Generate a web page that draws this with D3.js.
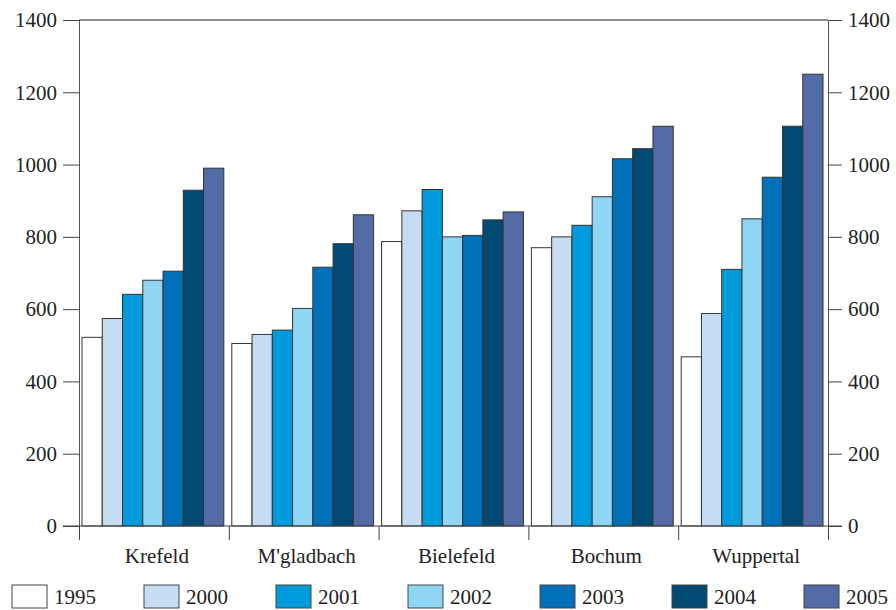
<!DOCTYPE html>
<html>
<head>
<meta charset="utf-8">
<script src="https://cdn.jsdelivr.net/npm/d3@7"></script>
<style>
  body { margin: 0; background: #fff; }
</style>
</head>
<body>
<div id="chart"></div>
<script>
const cities = ['Krefeld', "M'gladbach", 'Bielefeld', 'Bochum', 'Wuppertal'];
const years = ['1995', '2000', '2001', '2002', '2003', '2004', '2005'];
const colors = ['#ffffff', '#c6dcf2', '#009bdc', '#8fd6f5', '#0071b8', '#004a73', '#536ba6'];
const yTicks = [0, 200, 400, 600, 800, 1000, 1200, 1400];

// one row per city, one value per year
const values = [
  [522, 574, 641, 680, 705, 929, 990],
  [505, 530, 542, 602, 716, 781, 861],
  [787, 872, 931, 800, 804, 847, 869],
  [770, 800, 832, 911, 1016, 1044, 1106],
  [468, 588, 710, 850, 965, 1106, 1250]
];

const width = 896, height = 610;
const plotLeft = 79, plotRight = 828, plotTop = 20, plotBottom = 526;
const serif = "'Liberation Serif', 'Times New Roman', Times, serif";

const svg = d3.select('#chart').append('svg')
  .attr('width', width)
  .attr('height', height)
  .style('font-family', serif);

const x = d3.scaleBand().domain(cities).range([plotLeft, plotRight]);
const xInner = d3.scaleBand().domain(years)
  .range([3, x.bandwidth() - 5]);
const y = d3.scaleLinear().domain([0, 1400]).range([plotBottom, plotTop]);

// bars
cities.forEach(function (city, i) {
  svg.append('g')
    .selectAll('rect')
    .data(values[i])
    .join('rect')
    .attr('x', (d, j) => x(city) + xInner(years[j]))
    .attr('y', (d) => y(d))
    .attr('width', xInner.bandwidth())
    .attr('height', (d) => y(0) - y(d))
    .attr('fill', (d, j) => colors[j])
    .attr('stroke', '#333')
    .attr('stroke-width', 1);
});

// y axes, left and right
const yLeft = d3.axisLeft(y).tickValues(yTicks).tickFormat(d3.format('d'))
  .tickSize(16).tickPadding(6);
svg.append('g')
  .attr('transform', `translate(${plotLeft},0)`)
  .call(yLeft)
  .attr('font-family', serif)
  .call((g) => g.select('.domain').attr('stroke', '#555'))
  .call((g) => g.selectAll('.tick line').attr('stroke', '#444'))
  .call((g) => g.selectAll('text').attr('fill', '#222').style('font-size', '21px'));

const yRight = d3.axisRight(y).tickValues(yTicks).tickFormat(d3.format('d'))
  .tickSize(14).tickPadding(6);
svg.append('g')
  .attr('transform', `translate(${plotRight},0)`)
  .call(yRight)
  .attr('font-family', serif)
  .call((g) => g.select('.domain').attr('stroke', '#555'))
  .call((g) => g.selectAll('.tick line').attr('stroke', '#444'))
  .call((g) => g.selectAll('text').attr('fill', '#222').style('font-size', '21px'));

// top frame line
svg.append('line')
  .attr('x1', plotLeft).attr('x2', plotRight)
  .attr('y1', y(1400)).attr('y2', y(1400))
  .attr('stroke', '#222');

// category separators below the baseline
const xSep = d3.scaleLinear().domain([0, cities.length]).range([plotLeft, plotRight]);
svg.append('g')
  .attr('transform', `translate(0,${plotBottom})`)
  .call(d3.axisBottom(xSep).ticks(cities.length).tickSize(14).tickFormat(''))
  .call((g) => g.select('.domain').remove())
  .call((g) => g.selectAll('.tick line').attr('stroke', '#444'));

svg.append('line')
  .attr('x1', plotLeft - 16).attr('x2', plotRight + 14)
  .attr('y1', y(0)).attr('y2', y(0))
  .attr('stroke', '#444');

svg.append('g')
  .selectAll('text')
  .data(cities)
  .join('text')
  .attr('x', (d) => x(d) + x.bandwidth() / 2 + 3)
  .attr('y', 563)
  .attr('text-anchor', 'middle')
  .attr('fill', '#222')
  .style('font-size', '21px')
  .text((d) => d);

// legend
const legend = svg.append('g')
  .selectAll('g')
  .data(years)
  .join('g')
  .attr('transform', (d, i) => `translate(${12 + i * 132},585)`);

legend.append('rect')
  .attr('width', 35)
  .attr('height', 23)
  .attr('fill', (d, i) => colors[i])
  .attr('stroke', '#444');

legend.append('text')
  .attr('x', 42)
  .attr('y', 19)
  .attr('fill', '#222')
  .style('font-size', '21px')
  .text((d) => d);
</script>
</body>
</html>
